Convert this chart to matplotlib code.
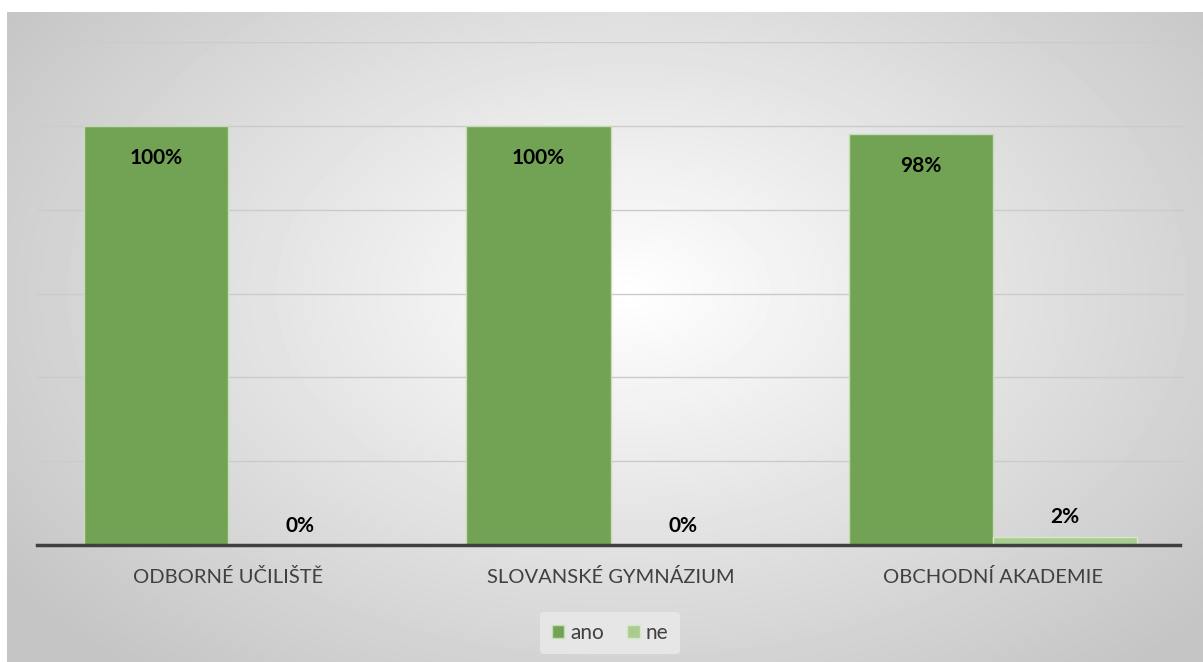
import matplotlib
matplotlib.use("Agg")
import matplotlib.pyplot as plt
import numpy as np

categories = ["ODBORNÉ UČILIŠTĚ", "SLOVANSKÉ GYMNÁZIUM", "OBCHODNÍ AKADEMIE"]
ano = [100, 100, 98]
ne = [0, 0, 2]
series_names = ["ano", "ne"]

plt.rcParams['font.family'] = ['Lato', 'DejaVu Sans']

fig = plt.figure(figsize=(12.03, 6.62), dpi=100)

# radial grey gradient background, white margin on top/left
bg = fig.add_axes([7 / 1203, 0, 1 - 7 / 1203, 1 - 12 / 662])
h, w = 650, 1196
yy, xx = np.mgrid[0:h, 0:w]
d = np.sqrt(((xx - 620) / 800.0) ** 2 + ((yy - 280) / 520.0) ** 2)
v = np.clip(1.0 - 0.24 * d, 0.77, 1.0)
bg.imshow(v, cmap="gray", vmin=0, vmax=1, aspect="auto", interpolation="bilinear")
bg.set_axis_off()

ax = fig.add_axes([37 / 1203, (662 - 545) / 662, (1184 - 37) / 1203, (545 - 42) / 662])
ax.patch.set_alpha(0)

x = np.arange(len(categories))
bw = 0.377
b1 = ax.bar(x - bw / 2, ano, bw, color="#72A354", edgecolor="#C5DDB5", linewidth=1, label=series_names[0])
b2 = ax.bar(x + bw / 2, ne, bw, color="#A9CD90", edgecolor="#D5E8C8", linewidth=1, label=series_names[1])

ax.set_xlim(-0.5, 2.5)
ax.set_ylim(0, 120)
ax.set_yticks(np.arange(20, 121, 20))
ax.yaxis.grid(True, color="#CBCBCB", linewidth=1)
ax.set_axisbelow(True)
ax.tick_params(axis="y", left=False, labelleft=False)
ax.tick_params(axis="x", bottom=False, pad=13)
ax.set_xticks(x)
ax.set_xticklabels(categories, fontsize=14.5, color="#404040")
for s in ["top", "right", "left"]:
    ax.spines[s].set_visible(False)
ax.spines["bottom"].set_color("#404040")
ax.spines["bottom"].set_linewidth(2.5)
ax.spines["bottom"].set_bounds(-0.5, 2.49)

for xi, v1 in zip(x, ano):
    ax.annotate(f"{v1}%", (xi - bw / 2, v1), xytext=(0, -23), textcoords="offset points",
                ha="center", va="center", fontsize=15, fontweight="bold", color="black")
for xi, v2 in zip(x, ne):
    ax.annotate(f"{v2}%", (xi + bw / 2, v2), xytext=(0, 14), textcoords="offset points",
                ha="center", va="center", fontsize=15, fontweight="bold", color="black")

leg = fig.legend(handles=[b1, b2], loc="center", bbox_to_anchor=(610 / 1203, 1 - 633 / 662),
                 ncol=2, frameon=True, fontsize=15, handlelength=0.6, handleheight=0.6,
                 handletextpad=0.3, columnspacing=1.1, borderpad=0.55)
leg.get_frame().set_facecolor("#E6E6E6")
leg.get_frame().set_edgecolor("none")
leg.get_frame().set_alpha(1)
for t in leg.get_texts():
    t.set_color("#404040")

fig.savefig("out.png", dpi=100)
